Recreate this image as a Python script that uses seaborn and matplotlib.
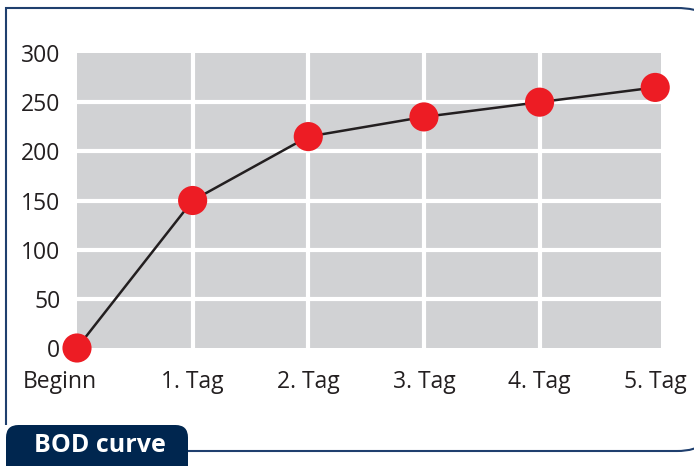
import matplotlib
matplotlib.use("Agg")
import matplotlib.pyplot as plt
import matplotlib.transforms as mtransforms
from matplotlib.patches import FancyBboxPatch, PathPatch
from matplotlib.path import Path
import seaborn as sns
import pandas as pd

# data
days = ["Beginn", "1. Tag", "2. Tag", "3. Tag", "4. Tag", "5. Tag"]
day_pos = [0, 1, 2, 3, 4, 5]
bod = [0, 150, 215, 235, 250, 265]
y_ticks = [0, 50, 100, 150, 200, 250, 300]

navy = "#00264f"
frame_blue = "#1f3f6e"
text_col = "#231f20"

sns.set_theme(style="darkgrid", rc={
    "axes.facecolor": "#d1d2d4",
    "grid.color": "white",
    "grid.linewidth": 3,
    "axes.edgecolor": "none",
})
plt.rcParams["font.family"] = ["Open Sans", "DejaVu Sans"]

W, H = 694, 466
fig = plt.figure(figsize=(W / 100, H / 100), dpi=100)
fig.patch.set_facecolor("white")
ax = fig.add_axes([77 / W, (H - 348) / H, (661 - 77) / W, (348 - 53) / H])

df = pd.DataFrame({"pos": day_pos, "bod": bod})
sns.lineplot(data=df, x="pos", y="bod", ax=ax, color=text_col, linewidth=1.8, zorder=3)
sns.scatterplot(data=df, x="pos", y="bod", ax=ax, color="#ed1c24", s=440,
                edgecolor="none", zorder=4, clip_on=False)

ax.set_xlim(0, 5.05)
ax.set_ylim(0, 300)
ax.set_xticks(day_pos)
ax.set_xticklabels(days)
ax.set_yticks(y_ticks)
ax.set_xlabel("")
ax.set_ylabel("")
ax.tick_params(axis="both", length=0, labelsize=16.5, labelcolor=text_col)
ax.tick_params(axis="y", pad=12)
ax.tick_params(axis="x", pad=16)

# no white lines on the plot edges
for ticks in (ax.xaxis.get_major_ticks(), ax.yaxis.get_major_ticks()):
    ticks[0].gridline.set_visible(False)
    ticks[-1].gridline.set_visible(False)

# first label sits left of its tick
lbl = ax.get_xticklabels()[0]
lbl.set_transform(lbl.get_transform() +
                  mtransforms.ScaledTranslation(-17 / 100, 0, fig.dpi_scale_trans))

# frame: open on the right, rounded right corners; the right side runs off the canvas
x0, x1, yt, yb, r = 6, 760, H - 8, H - 451, 83
k = 0.5523 * r
verts = [(x0, H - 425), (x0, yt), (x1 - r, yt),
         (x1 - r + k, yt), (x1, yt - r + k), (x1, yt - r),
         (x1, yb + r),
         (x1, yb + r - k), (x1 - r + k, yb), (x1 - r, yb),
         (188, yb)]
codes = [Path.MOVETO, Path.LINETO, Path.LINETO,
         Path.CURVE4, Path.CURVE4, Path.CURVE4,
         Path.LINETO,
         Path.CURVE4, Path.CURVE4, Path.CURVE4,
         Path.LINETO]
verts = [(vx / W, vy / H) for vx, vy in verts]
fig.patches.append(PathPatch(Path(verts, codes), transform=fig.transFigure,
                             fill=False, edgecolor=frame_blue, linewidth=1.5))

# title tab
tab = FancyBboxPatch((6 / W, -20 / H), (188 - 6) / W, (466 - 425 + 20) / H,
                     boxstyle="round,pad=0,rounding_size=0.018",
                     transform=fig.transFigure, facecolor=navy, edgecolor="none",
                     mutation_aspect=W / H)
fig.patches.append(tab)
fig.text(100 / W, (H - 446) / H, "BOD curve", color="white", fontsize=18,
         fontweight="bold", ha="center", va="center")

fig.savefig("out.png", dpi=100)
